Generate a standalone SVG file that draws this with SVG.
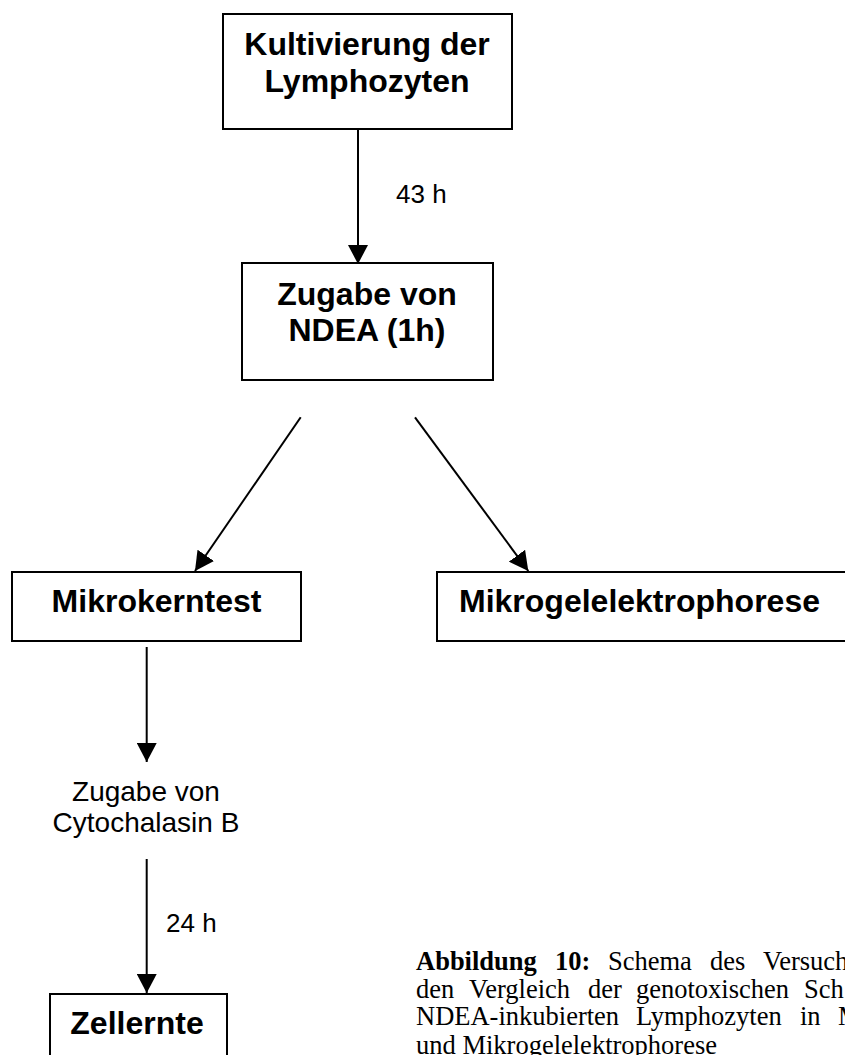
<svg xmlns="http://www.w3.org/2000/svg" width="845" height="1055" viewBox="0 0 845 1055">
<style>
.box{fill:#fff;stroke:#000;stroke-width:2}
.b{font-family:"Liberation Sans",Arial,sans-serif;font-weight:bold;font-size:32px;fill:#000}
.r{font-family:"Liberation Sans",Arial,sans-serif;font-size:28px;fill:#000}
.l{font-family:"Liberation Sans",Arial,sans-serif;font-size:26px;fill:#000}
.c{font-family:"Liberation Serif","Times New Roman",serif;font-size:26.5px;fill:#000}
.cb{font-weight:bold}
.edge{stroke:#000;stroke-width:2;fill:none;marker-end:url(#ah)}
</style>
<defs>
<marker id="ah" markerUnits="userSpaceOnUse" markerWidth="20" markerHeight="20" refX="19" refY="10" orient="auto" viewBox="0 0 20 20">
<path d="M0,0 L19,10 L0,20 z" fill="#000"/>
</marker>
</defs>
<rect width="845" height="1055" fill="#fff"/>
<g id="connectors">
<line class="edge" x1="358" y1="129" x2="358" y2="264"/>
<line class="edge" x1="300.7" y1="417.3" x2="195" y2="571"/>
<line class="edge" x1="415" y1="417.3" x2="528.3" y2="571"/>
<line class="edge" x1="146.7" y1="647" x2="146.7" y2="762"/>
<line class="edge" x1="146.7" y1="859" x2="146.7" y2="993"/>
<text class="l" x="396" y="203">43 h</text>
<text class="l" x="166" y="932">24 h</text>
</g>
<g id="n1">
<rect class="box" x="223" y="14" width="289" height="115"/>
<text class="b" x="367" y="55" text-anchor="middle">Kultivierung der</text>
<text class="b" x="367" y="92" text-anchor="middle">Lymphozyten</text>
</g>
<g id="n2">
<rect class="box" x="242" y="263" width="251" height="117"/>
<text class="b" x="367" y="305" text-anchor="middle">Zugabe von</text>
<text class="b" x="367" y="341" text-anchor="middle">NDEA (1h)</text>
</g>
<g id="n3">
<rect class="box" x="12" y="572" width="289" height="69"/>
<text class="b" x="156.5" y="612" text-anchor="middle">Mikrokerntest</text>
</g>
<g id="n4">
<rect class="box" x="437" y="572" width="430" height="69"/>
<text class="b" x="459" y="612">Mikrogelelektrophorese</text>
</g>
<g id="n5">
<text class="r" x="146" y="801" text-anchor="middle">Zugabe von</text>
<text class="r" x="146" y="832" text-anchor="middle">Cytochalasin B</text>
</g>
<g id="n6">
<rect class="box" x="50" y="994" width="177" height="80"/>
<text class="b" x="137" y="1034" text-anchor="middle">Zellernte</text>
</g>
<g id="caption" class="c">
<text class="c" y="970"><tspan class="cb" x="416">Abbildung</tspan><tspan class="cb" x="555">10:</tspan><tspan x="608">Schema</tspan><tspan x="710">des</tspan><tspan x="763">Versuch</tspan></text>
<text class="c" y="997.5"><tspan x="416">den</tspan><tspan x="469">Vergleich</tspan><tspan x="588">der</tspan><tspan x="636">genotoxischen</tspan><tspan x="804">Sch</tspan></text>
<text class="c" y="1025"><tspan x="416">NDEA-inkubierten</tspan><tspan x="636">Lymphozyten</tspan><tspan x="800">in</tspan><tspan x="838">M</tspan></text>
<text class="c" x="416" y="1054">und Mikrogelelektrophorese</text>
</g>
</svg>
